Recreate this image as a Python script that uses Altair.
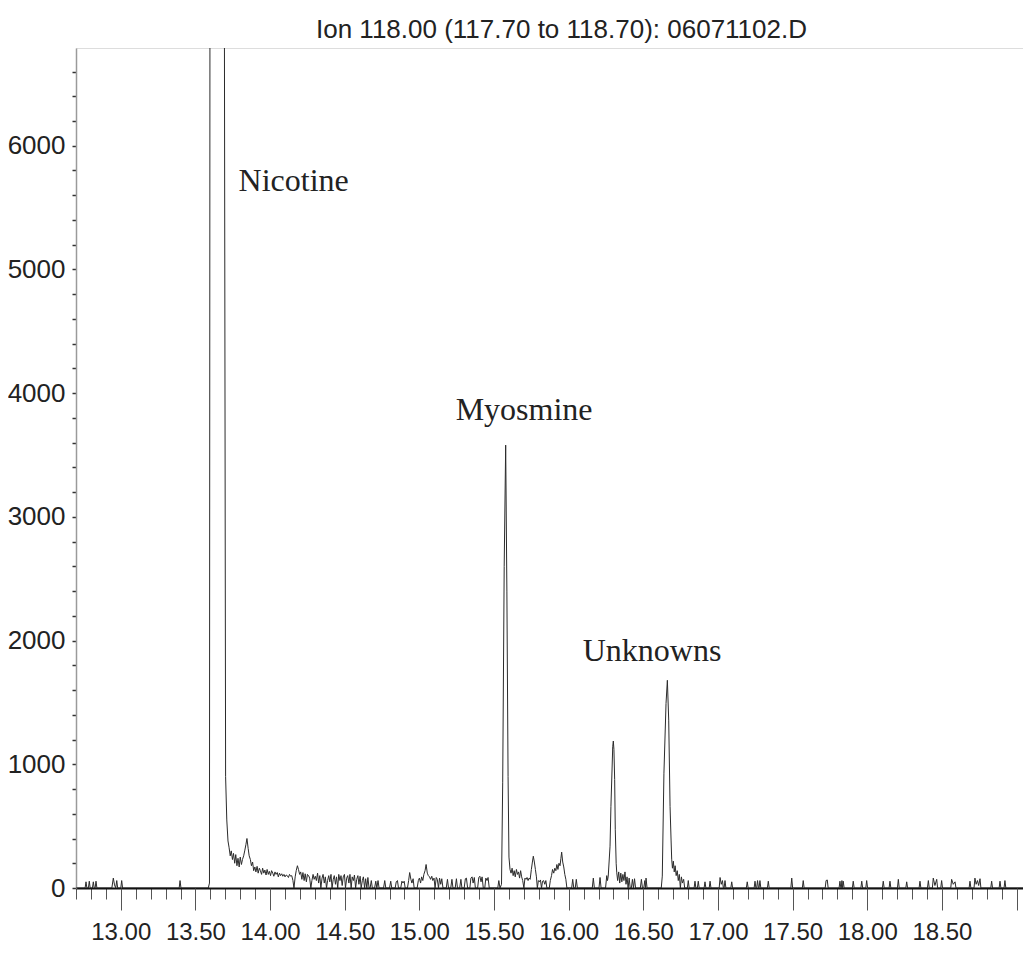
import altair as alt
import pandas as pd

TITLE = "Ion 118.00 (117.70 to 118.70): 06071102.D"

# ---- chromatogram trace: (retention time [min], abundance) ----
pre_nicotine = [
    (12.700, 0), (12.761, 0), (12.767, 50), (12.773, 0), (12.783, 0), (12.789, 55), (12.795, 0),
    (12.810, 0), (12.816, 50), (12.822, 0), (12.828, 0), (12.834, 55), (12.840, 0),
    (12.940, 0), (12.950, 80), (12.958, 25), (12.966, 0), (12.973, 60), (12.979, 0),
    (13.000, 0), (13.006, 60), (13.012, 0), (13.391, 0), (13.397, 60), (13.403, 0), (13.586, 0),
]

nicotine_peak = [
    (13.594, 40), (13.604, 22000), (13.620, 60000), (13.640, 75000), (13.660, 60000),
    (13.680, 25000), (13.694, 7000), (13.702, 900),
]

after_nicotine = [
    (13.710, 550), (13.718, 380), (13.725, 330), (13.733, 260), (13.740, 300), (13.748, 230),
    (13.755, 280), (13.763, 200), (13.770, 270), (13.778, 180), (13.785, 240), (13.793, 170),
    (13.800, 250), (13.808, 190), (13.815, 230), (13.823, 260), (13.830, 300), (13.838, 350),
    (13.845, 400), (13.853, 320), (13.860, 260), (13.868, 230), (13.875, 180), (13.883, 210),
    (13.890, 140), (13.898, 170), (13.905, 130), (13.913, 175), (13.920, 120), (13.928, 160),
    (13.935, 140), (13.943, 110), (13.950, 160), (13.958, 120), (13.965, 145), (13.973, 105),
    (13.980, 150), (13.988, 110), (13.995, 135), (14.003, 100), (14.010, 140), (14.018, 120),
    (14.025, 95), (14.033, 130), (14.040, 110), (14.048, 125), (14.055, 90), (14.063, 120),
    (14.070, 100), (14.078, 115), (14.085, 95), (14.093, 110), (14.100, 90), (14.108, 105),
    (14.115, 100), (14.123, 85), (14.130, 110), (14.138, 95), (14.145, 100), (14.153, 60),
    (14.160, 0), (14.168, 90), (14.175, 140), (14.183, 180), (14.190, 150), (14.198, 110),
    (14.205, 130), (14.213, 70), (14.220, 125), (14.228, 60), (14.235, 115), (14.243, 50),
    (14.250, 110), (14.258, 100), (14.265, 80), (14.273, 0), (14.280, 60), (14.288, 110),
    (14.295, 70), (14.303, 95), (14.310, 60), (14.318, 120), (14.325, 40), (14.333, 100),
    (14.340, 0), (14.348, 80), (14.355, 110), (14.363, 40), (14.370, 90), (14.378, 0),
    (14.385, 60), (14.393, 100), (14.400, 50), (14.408, 110), (14.415, 0), (14.423, 70),
    (14.430, 100), (14.438, 30), (14.445, 90), (14.453, 0), (14.460, 110), (14.468, 60),
    (14.475, 100), (14.483, 20), (14.490, 90), (14.498, 110), (14.505, 0), (14.513, 80),
    (14.520, 100), (14.528, 40), (14.535, 110), (14.543, 0), (14.550, 90), (14.558, 60),
    (14.565, 105), (14.573, 0), (14.580, 70), (14.588, 100), (14.595, 30), (14.603, 95),
    (14.610, 0), (14.618, 60), (14.625, 90), (14.633, 0), (14.640, 75), (14.648, 0),
    (14.655, 85), (14.663, 0), (14.670, 0), (14.678, 60), (14.685, 0), (14.700, 0),
    (14.708, 55), (14.715, 0), (14.723, 60), (14.730, 0), (14.760, 0), (14.768, 60),
    (14.775, 0), (14.800, 0), (14.808, 55), (14.815, 0), (14.838, 0), (14.845, 50),
    (14.853, 60), (14.860, 0), (14.875, 0), (14.883, 55), (14.890, 40), (14.898, 55),
    (14.905, 0), (14.920, 0), (14.928, 60), (14.935, 125), (14.943, 70), (14.950, 40),
    (14.958, 75), (14.965, 0), (14.985, 0), (14.993, 60), (15.000, 80), (15.008, 40),
    (15.015, 90), (15.023, 60), (15.030, 110), (15.038, 140), (15.045, 190), (15.053, 120),
    (15.060, 100), (15.068, 90), (15.075, 70), (15.083, 95), (15.090, 60), (15.098, 80),
    (15.105, 0), (15.113, 85), (15.120, 70), (15.128, 0), (15.135, 80), (15.143, 30),
    (15.150, 75), (15.158, 0), (15.180, 0), (15.188, 70), (15.195, 0), (15.210, 0),
    (15.218, 70), (15.225, 0), (15.240, 0), (15.248, 75), (15.255, 0), (15.270, 0),
    (15.278, 70), (15.285, 0), (15.300, 0), (15.308, 75), (15.315, 80), (15.323, 0),
    (15.338, 0), (15.345, 80), (15.353, 90), (15.360, 40), (15.368, 85), (15.375, 0),
    (15.390, 0), (15.398, 85), (15.405, 95), (15.413, 50), (15.420, 90), (15.428, 0),
    (15.438, 0), (15.445, 80), (15.453, 60), (15.460, 85), (15.468, 0), (15.525, 0),
    (15.532, 60), (15.540, 0),
]

myosmine_peak = [
    (15.550, 30), (15.558, 850), (15.568, 2600), (15.578, 3580), (15.586, 2400),
    (15.594, 900),
]

after_myosmine = [
    (15.600, 250), (15.607, 150), (15.614, 120), (15.621, 160), (15.628, 100), (15.635, 140),
    (15.642, 90), (15.650, 150), (15.657, 110), (15.664, 130), (15.671, 80), (15.678, 140),
    (15.685, 90), (15.692, 60), (15.700, 0), (15.707, 80), (15.714, 70), (15.721, 85),
    (15.728, 60), (15.735, 80), (15.742, 70), (15.750, 150), (15.757, 210), (15.763, 257),
    (15.770, 210), (15.777, 150), (15.784, 90), (15.790, 0), (15.797, 60), (15.804, 50),
    (15.811, 65), (15.818, 0), (15.825, 55), (15.832, 60), (15.840, 30), (15.847, 60),
    (15.854, 0), (15.870, 0), (15.877, 60), (15.885, 100), (15.892, 150), (15.900, 120),
    (15.907, 160), (15.914, 140), (15.921, 190), (15.928, 150), (15.935, 200), (15.942, 180),
    (15.948, 240), (15.953, 290), (15.960, 210), (15.967, 170), (15.974, 110), (15.981, 70),
    (15.988, 0), (16.020, 0), (16.027, 70), (16.034, 0), (16.044, 0), (16.051, 70),
    (16.058, 0), (16.158, 0), (16.165, 80), (16.172, 0), (16.203, 0), (16.210, 85),
    (16.217, 0), (16.247, 0), (16.255, 100), (16.260, 60),
]

unknown_peak_1 = [
    (16.265, 96), (16.277, 338), (16.283, 660), (16.295, 1142), (16.299, 1188), (16.303, 1120),
    (16.308, 877), (16.312, 475), (16.318, 200), (16.322, 123), (16.328, 60), (16.335, 130),
    (16.342, 40), (16.349, 120), (16.356, 50), (16.363, 110), (16.370, 60), (16.377, 130),
    (16.384, 30), (16.391, 90), (16.398, 0), (16.405, 80), (16.412, 0), (16.420, 0),
    (16.427, 70), (16.434, 0), (16.441, 75), (16.448, 0), (16.480, 0), (16.487, 70),
    (16.494, 0), (16.503, 0), (16.510, 60), (16.515, 0), (16.518, 80), (16.525, 0),
    (16.620, 0),
]

unknown_peak_2 = [
    (16.627, 96), (16.638, 928), (16.652, 1491), (16.661, 1679), (16.670, 1357), (16.679, 660),
    (16.686, 380), (16.690, 233), (16.695, 160), (16.701, 217), (16.707, 130), (16.713, 180),
    (16.720, 100), (16.727, 140), (16.734, 60), (16.741, 110), (16.748, 0), (16.755, 90),
    (16.762, 40), (16.770, 70), (16.777, 0),
]

late_baseline = [
    (16.795, 0), (16.801, 60), (16.807, 0), (16.840, 0), (16.846, 55), (16.852, 0),
    (16.862, 0), (16.868, 55), (16.874, 0), (16.907, 0), (16.913, 50), (16.919, 0),
    (16.941, 0), (16.947, 55), (16.953, 0), (17.008, 0), (17.014, 85), (17.022, 30),
    (17.030, 60), (17.036, 0), (17.041, 0), (17.047, 60), (17.053, 0), (17.086, 0),
    (17.092, 50), (17.098, 0), (17.190, 0), (17.196, 50), (17.202, 0), (17.242, 0),
    (17.248, 55), (17.254, 0), (17.259, 0), (17.265, 60), (17.271, 0), (17.275, 0),
    (17.281, 60), (17.287, 0), (17.331, 0), (17.337, 55), (17.343, 0), (17.488, 0),
    (17.494, 80), (17.500, 0), (17.565, 0), (17.571, 60), (17.577, 0), (17.718, 0),
    (17.724, 60), (17.732, 65), (17.738, 0), (17.811, 0), (17.817, 55), (17.823, 0),
    (17.826, 0), (17.830, 60), (17.834, 0), (17.839, 55), (17.845, 0), (17.900, 0),
    (17.906, 55), (17.912, 0), (17.957, 0), (17.963, 55), (17.969, 0), (17.990, 0),
    (17.996, 60), (18.002, 0), (18.101, 0), (18.107, 55), (18.113, 0), (18.146, 0),
    (18.152, 55), (18.158, 0), (18.202, 0), (18.208, 70), (18.214, 0), (18.258, 0),
    (18.264, 50), (18.270, 0), (18.347, 0), (18.353, 55), (18.359, 0), (18.403, 0),
    (18.409, 60), (18.415, 0), (18.436, 0), (18.442, 80), (18.453, 20), (18.465, 70),
    (18.471, 0), (18.492, 0), (18.498, 60), (18.504, 0), (18.559, 0), (18.565, 70),
    (18.576, 30), (18.588, 50), (18.594, 0), (18.682, 0), (18.688, 55), (18.694, 0),
    (18.715, 0), (18.721, 80), (18.729, 30), (18.738, 60), (18.746, 20), (18.755, 75),
    (18.761, 0), (18.827, 0), (18.833, 55), (18.839, 0), (18.883, 0), (18.889, 55),
    (18.895, 0), (18.916, 0), (18.922, 60), (18.928, 0), (19.100, 0),
]

segments = [pre_nicotine, nicotine_peak, after_nicotine, myosmine_peak, after_myosmine,
            unknown_peak_1, unknown_peak_2, late_baseline]
trace = pd.DataFrame(
    [{"rt": t, "abundance": v} for seg in segments for (t, v) in seg]
)

# ---- annotations ----
label_text = ["Nicotine", "Myosmine", "Unknowns"]
label_rt = [13.789, 15.243, 16.094]
label_abundance = [5637, 3787, 1837]
labels = pd.DataFrame({"text": label_text, "rt": label_rt, "abundance": label_abundance})

# ---- axes ----
x_domain = [12.7, 19.043]
y_domain = [0, 6790]
x_minor_ticks = [round(12.7 + 0.1 * i, 1) for i in range(64)]
x_major_ticks = [13.0, 13.5, 14.0, 14.5, 15.0, 15.5, 16.0, 16.5, 17.0, 17.5, 18.0, 18.5, 19.0]
y_ticks = [200 * i for i in range(34)]

SANS = "Liberation Sans, Arial, sans-serif"
SERIF = "Liberation Serif, Times New Roman, serif"

x_scale = alt.Scale(domain=x_domain, nice=False, zero=False)
y_scale = alt.Scale(domain=y_domain, nice=False, zero=False)

y_axis = alt.Axis(
    values=y_ticks, tickSize=4, format="d",
    labelExpr="datum.value % 1000 === 0 ? datum.label : ''",
    labelFont=SANS, labelFontSize=26, labelColor="#222222", labelPadding=7,
    title=None, grid=False, domainColor="#9a9a9a", domainWidth=1.5,
    tickColor="#333333", tickWidth=1.5, labelOverlap=False)

line = alt.Chart(trace).mark_line(color="#2b2b2b", strokeWidth=1, clip=True).encode(
    x=alt.X("rt:Q", scale=x_scale, axis=alt.Axis(
        values=x_minor_ticks, tickSize=11, labels=False, title=None, grid=False,
        domainColor="#111111", domainWidth=1.8, tickColor="#555555", tickWidth=1,
        orient="bottom")),
    y=alt.Y("abundance:Q", scale=y_scale, axis=y_axis),
)

text = alt.Chart(labels).mark_text(
    align="left", baseline="alphabetic", font=SERIF, fontSize=32, color="#222222"
).encode(
    x=alt.X("rt:Q", scale=x_scale, axis=alt.Axis(
        values=x_major_ticks, tickSize=22, format=".2f",
        labelExpr="datum.value > 18.9 ? '' : datum.label",
        labelFont=SANS, labelFontSize=24, labelColor="#222222", labelPadding=10,
        labelOverlap=False, labelFlush=False, domain=False, title=None, grid=False,
        tickColor="#555555", tickWidth=1, orient="bottom")),
    y=alt.Y("abundance:Q", scale=y_scale, axis=y_axis),
    text="text:N",
)

chart = alt.layer(line, text).resolve_axis(x="independent").properties(
    width=947,
    height=840,
    autosize="none",
    padding={"left": 68, "top": 40, "right": 0, "bottom": 58},
    title=alt.TitleParams(TITLE, font=SANS, fontSize=26, fontWeight="normal",
                          color="#222222", anchor="middle", offset=12,
                          baseline="alphabetic", dx=12, dy=28),
).configure_view(strokeWidth=0).configure(background="white")

chart.save("out.html", embed_options={"renderer": "svg", "actions": False})
